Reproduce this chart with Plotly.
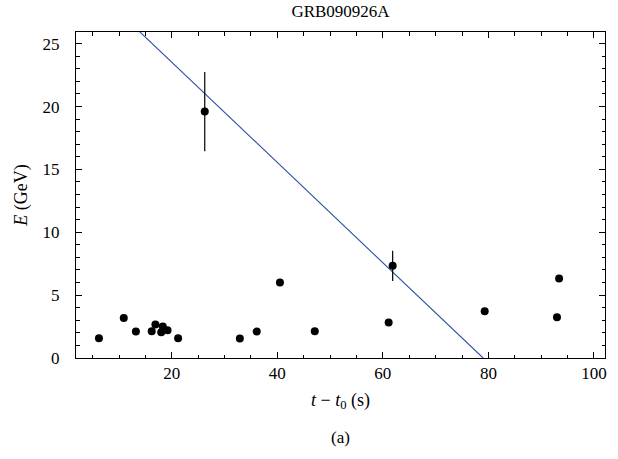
import plotly.graph_objects as go

# Data points (t - t0 in s, E in GeV)
t_vals = [6.2, 10.9, 13.2, 16.2, 16.9, 18.0, 18.3, 19.2, 21.2, 32.9, 36.1, 40.5, 47.1, 61.1, 79.3, 93.0, 93.4]
e_vals = [1.57, 3.19, 2.1, 2.13, 2.66, 2.04, 2.5, 2.2, 1.57, 1.55, 2.1, 6.0, 2.13, 2.82, 3.72, 3.24, 6.33]

# Points with error bars
t_err_pts = [26.25, 61.86]
e_err_pts = [19.6, 7.33]
e_err = [3.15, 1.2]

# Fitted line
line_t = [0, 79.0]
line_E = [31.5, 0]

serif = "Liberation Serif, Times New Roman, serif"

fig = go.Figure()
fig.add_trace(go.Scatter(x=line_t, y=line_E, mode="lines",
                         line=dict(color="#2c4ea6", width=1.1), showlegend=False,
                         cliponaxis=True))
fig.add_trace(go.Scatter(x=t_err_pts, y=e_err_pts, mode="markers",
                         marker=dict(color="black", size=8),
                         error_y=dict(type="data", array=e_err, color="black", thickness=1.2, width=0),
                         showlegend=False))
fig.add_trace(go.Scatter(x=t_vals, y=e_vals, mode="markers",
                         marker=dict(color="black", size=8), showlegend=False))

axis_common = dict(showgrid=False, zeroline=False, showline=True, linecolor="black",
                   linewidth=1, ticks="inside", mirror="allticks", tickcolor="black",
                   tickwidth=1, tickfont=dict(family=serif, size=17, color="black"))

fig.update_xaxes(range=[1.85, 102.1], dtick=20, tick0=0, ticklen=6,
                 minor=dict(dtick=5, ticklen=3.5, ticks="inside", tickcolor="black"),
                 title=dict(text="<i>t</i> − <i>t</i><sub>0</sub> (s)",
                            font=dict(family=serif, size=18, color="black"), standoff=10),
                 **axis_common)
fig.update_yaxes(range=[0, 25.93], dtick=5, tick0=0, ticklen=6,
                 minor=dict(dtick=1, ticklen=3.5, ticks="inside", tickcolor="black"),
                 ticklabelstandoff=12,
                 title=dict(text="<i>E</i> (GeV)",
                            font=dict(family=serif, size=18, color="black"), standoff=10),
                 **axis_common)

fig.update_layout(
    width=618, height=459,
    margin=dict(l=76, r=13, t=32, b=101),
    paper_bgcolor="white", plot_bgcolor="white",
    title=dict(text="GRB090926A", x=0.5, xref="paper", y=0.975, yanchor="middle",
               font=dict(family=serif, size=17, color="black")),
    annotations=[dict(text="(a)", x=0.5, xref="paper",
                      y=(459 - 437 - 101) / (459 - 32 - 101), yref="paper", yanchor="middle",
                      showarrow=False, font=dict(family=serif, size=17, color="black"))],
)
fig.write_html("out.html")
